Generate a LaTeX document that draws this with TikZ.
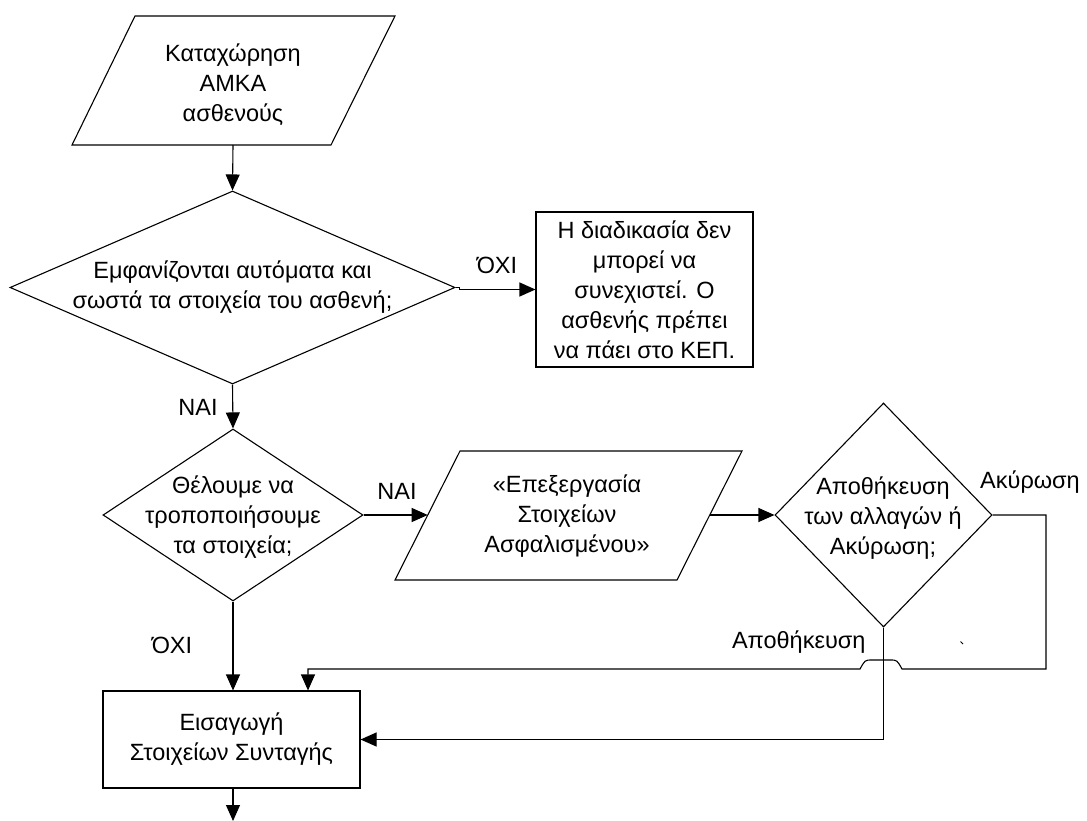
\documentclass[tikz,border=0pt]{standalone}
\usepackage{fontspec}
\setmainfont{Liberation Sans}
\usetikzlibrary{arrows.meta,shapes.geometric}
\begin{document}
\begin{tikzpicture}[x=1pt,y=-1pt, line width=1.1pt,
  arr/.style={-{Triangle[length=16pt,width=14pt]}},
  txt/.style={align=center, font=\fontsize{23.5}{30}\selectfont, inner sep=0pt},
  lbl/.style={font=\fontsize{23.5}{28}\selectfont, inner sep=0pt},
  dia/.style={diamond, draw, inner sep=0pt},
  box/.style={rectangle, draw, inner sep=0pt}]
\useasboundingbox (0,0) rectangle (1087,821);

% input parallelogram 1
\coordinate (p1a) at (135,16);
\coordinate (p1b) at (395,16);
\coordinate (p1c) at (331,145);
\coordinate (p1d) at (72,145);
\draw (p1a) -- (p1b) -- (p1c) -- (p1d) -- cycle;
\node[txt] (p1) at (233,85) {Καταχώρηση\\ΑΜΚΑ\\ασθενούς};
\coordinate (p1s) at (233,145);

% decision 1
\node[dia, minimum width=445pt, minimum height=193pt] (d1) at (232.5,287.5) {};
\node[txt] (d1t) at (d1) {Εμφανίζονται αυτόματα και\\σωστά τα στοιχεία του ασθενή;};
\draw[arr] (p1s) -- (d1.north);

% box 1
\node[box, minimum width=217pt, minimum height=155pt] (b1) at (644.5,289.5) {};
\node[txt] (b1t) at (b1) {Η διαδικασία δεν\\μπορεί να\\συνεχιστεί. Ο\\ασθενής πρέπει\\να πάει στο ΚΕΠ.};
\draw[arr] (d1.east) -- ++(4,0) |- (b1.west);
\node[lbl, anchor=base] (l1) at (497,273) {ΌΧΙ};

% decision 2
\node[dia, minimum width=260pt, minimum height=172pt] (d2) at (233,515) {};
\node[txt] (d2t) at (233,517) {Θέλουμε να\\τροποποιήσουμε\\τα στοιχεία;};
\draw[arr] (d1.south) -- (d2.north);
\node[lbl, anchor=base] (l2) at (198,415) {ΝΑΙ};

% parallelogram 2
\coordinate (p2a) at (460,451);
\coordinate (p2b) at (742,451);
\coordinate (p2c) at (677,580);
\coordinate (p2d) at (395,580);
\draw (p2a) -- (p2b) -- (p2c) -- (p2d) -- cycle;
\node[txt] (p2) at (567,516) {«Επεξεργασία\\Στοιχείων\\Ασφαλισμένου»};
\coordinate (p2w) at (427.7,515);
\coordinate (p2e) at (709.7,515);
\draw[arr] (d2.east) -- (p2w);
\node[lbl, anchor=base] (l3) at (397,499) {ΝΑΙ};

% decision 3
\node[dia, minimum width=217pt, minimum height=224pt] (d3) at (883.5,515) {};
\node[txt] (d3t) at (883,518) {Αποθήκευση\\των αλλαγών ή\\Ακύρωση;};
\draw[arr] (p2e) -- (d3.west);
\node[lbl, anchor=base] (l4) at (1030,488) {Ακύρωση};

% box 2
\node[box, minimum width=257pt, minimum height=97pt] (b2) at (231.5,739.5) {};
\node[txt] (b2t) at (b2) {Εισαγωγή\\Στοιχείων Συνταγής};
\draw[arr] (d2.south) -- (d2.south |- b2.north);
\node[lbl, anchor=base] (l5) at (172,653) {ΌΧΙ};

% cancel loop with line hop
\coordinate (c1) at (1046,669);
\coordinate (hr) at (902,669);
\coordinate (hl) at (860,669);
\coordinate (c2) at (308,669);
\draw[arr] (d3.east) -| (c1) -- (hr) .. controls (897,660) .. (890,660) -- (872,660) .. controls (865,660) .. (hl) -- (c2) -- (c2 |- b2.north);

% save path
\draw[arr] (d3.south) |- (b2.east);
\node[lbl, anchor=base east] (l6) at (866,648) {Αποθήκευση};

% exit arrow
\coordinate (out) at (233,821);
\draw[arr] (b2.south -| d2.south) -- (out);

% stray mark
\draw[line width=0.8pt] (960.5,641.5) -- (963,644);
\end{tikzpicture}
\end{document}
